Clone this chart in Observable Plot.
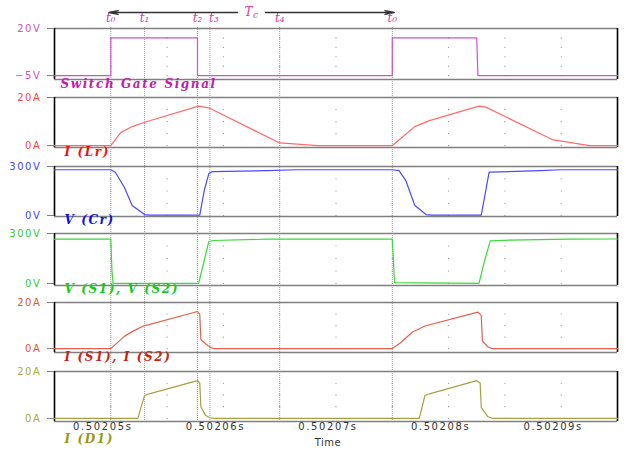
<!DOCTYPE html>
<html><head><meta charset="utf-8">
<script src="https://cdn.jsdelivr.net/npm/d3@7"></script>
<script src="https://cdn.jsdelivr.net/npm/@observablehq/plot@0.6"></script>
<style>
html,body{margin:0;padding:0;background:#fff;}
#chart{position:relative;width:626px;height:451px;overflow:hidden;background:#fff;}
#chart svg{position:absolute;left:0;overflow:visible;background:transparent;}
</style></head><body><div id="chart"></div>
<script>
// ---- axes / markers ----
const xDomain = [0.502045, 0.502095];
const xGridTicks = [0.50205, 0.502055, 0.50206, 0.502065, 0.50207, 0.502075, 0.50208, 0.502085, 0.50209];
const xTicks = [0.50205, 0.50206, 0.50207, 0.50208, 0.50209];
const xTickLabels = ["0.50205s", "0.50206s", "0.50207s", "0.50208s", "0.50209s"];
const xLabel = "Time";
const markerTimes = [0.50205, 0.502053, 0.5020577, 0.5020588, 0.502065, 0.502075];
const markerLabels = ["t\u2080", "t\u2081", "t\u2082", "t\u2083", "t\u2084", "t\u2080"];
const periodLabel = ["T", "c"];

// ---- Switch Gate Signal ----
const gateTime = [0.502045, 0.50205, 0.50205, 0.5020577, 0.5020577, 0.502075, 0.502075, 0.5020825, 0.5020826, 0.502095];
const gateVolts = [-5, -5, 15, 15, -5, -5, 15, 15, -5, -5];
const gateTicks = [20, -5];
const gateTickLabels = ["20V", "\u22125V"];
const gateGrid = [15, 10, 5, 0, -5];

// ---- I(Lr) ----
const lrTime = [0.502045, 0.50205, 0.5020509, 0.5020519, 0.502053, 0.5020578, 0.5020587, 0.502065, 0.5020684, 0.502075, 0.5020763, 0.502077, 0.5020783, 0.5020827, 0.5020833, 0.5020892, 0.5020925, 0.502095];
const lrAmps = [0, 0, 5.5, 7.9, 9.7, 16.4, 15.7, 1.1, 0, 0, 5.1, 7.9, 10.4, 16.4, 16.0, 2.5, 0, 0];
const ampTicks = [20, 0];
const ampTickLabels = ["20A", "0A"];
const ampGrid = [15, 10, 5, 0];

// ---- V(Cr) ----
const crTime = [0.502045, 0.50205, 0.5020504, 0.5020512, 0.5020519, 0.502053, 0.5020535, 0.5020579, 0.5020583, 0.5020587, 0.502059, 0.5020639, 0.5020665, 0.502075, 0.5020756, 0.5020762, 0.502077, 0.502078, 0.5020785, 0.5020829, 0.5020836, 0.5020881, 0.50209, 0.502095];
const crVolts = [280, 280, 265, 173, 61, 6, 2, 2, 153, 255, 269, 275, 280, 280, 275, 214, 61, 6, 2, 2, 265, 275, 280, 280];
const voltTicks = [300, 0];
const voltTickLabels = ["300V", "0V"];
const voltGrid = [225, 150, 75, 0];

// ---- V(S1), V(S2) ----
const s1Time = [0.502045, 0.50205, 0.5020501, 0.5020502, 0.5020578, 0.5020583, 0.5020587, 0.5020591, 0.5020639, 0.502075, 0.5020752, 0.5020827, 0.5020832, 0.5020837, 0.5020854, 0.5020907, 0.502095];
const s1Volts = [266, 266, 78, 1, 1, 138, 252, 258, 266, 266, 5, 1, 138, 256, 260, 266, 267];

// ---- I(S1), I(S2) ----
const is1Time = [0.502045, 0.50205, 0.5020512, 0.5020521, 0.502053, 0.5020534, 0.5020577, 0.5020579, 0.502058, 0.5020584, 0.5020589, 0.5020592, 0.502075, 0.5020757, 0.5020768, 0.5020779, 0.5020826, 0.5020829, 0.502083, 0.5020835, 0.5020839, 0.502095];
const is1Amps = [0, 0, 5.3, 7.9, 10.0, 10.4, 16.1, 14.8, 3.9, 2.2, 0.3, 0, 0, 2.4, 7.2, 9.8, 15.8, 14.4, 3.3, 0.7, 0, 0];

// ---- I(D1) ----
const d1Time = [0.502045, 0.5020524, 0.502053, 0.5020534, 0.5020577, 0.5020579, 0.502058, 0.5020584, 0.5020588, 0.5020592, 0.5020774, 0.5020779, 0.5020783, 0.5020825, 0.5020828, 0.5020829, 0.5020835, 0.5020839, 0.502095];
const d1Amps = [0, 0, 9.8, 10.5, 16.1, 15.1, 4.9, 1.4, 0.3, 0, 0, 9.8, 10.5, 16.1, 15.1, 4.6, 0.7, 0, 0];

const panels = [
  {title: "Switch Gate Signal", time: gateTime, values: gateVolts, yDomain: [-7.1, 20], ticks: gateTicks, tickLabels: gateTickLabels, grid: gateGrid,
   top: 28, bottom: 79, color: "#d050d0", tickColor: "#cc55bb", titleColor: "#bb22aa", titleDx: 6, titleDy: 8},
  {title: "I (Lr)", time: lrTime, values: lrAmps, yDomain: [-0.8, 20], ticks: ampTicks, tickLabels: ampTickLabels, grid: ampGrid,
   top: 97, bottom: 147, color: "#ff6b6b", tickColor: "#ff4444", titleColor: "#ee1111", titleDx: 10, titleDy: 8},
  {title: "V (Cr)", time: crTime, values: crVolts, yDomain: [-6, 300], ticks: voltTicks, tickLabels: voltTickLabels, grid: voltGrid,
   top: 166, bottom: 216, color: "#4a4aff", tickColor: "#4444ff", titleColor: "#1111dd", titleDx: 10, titleDy: 7},
  {title: "V (S1), V (S2)", time: s1Time, values: s1Volts, yDomain: [-12, 300], ticks: voltTicks, tickLabels: voltTickLabels, grid: voltGrid,
   top: 233, bottom: 285, color: "#3cd83c", tickColor: "#33cc33", titleColor: "#11cc11", titleDx: 10, titleDy: 7},
  {title: "I (S1), I (S2)", time: is1Time, values: is1Amps, yDomain: [-1.7, 20], ticks: ampTicks, tickLabels: ampTickLabels, grid: ampGrid,
   top: 302, bottom: 352, color: "#e8604c", tickColor: "#dd5533", titleColor: "#cc2211", titleDx: 10, titleDy: 8},
  {title: "I (D1)", time: d1Time, values: d1Amps, yDomain: [-1.3, 20], ticks: ampTicks, tickLabels: ampTickLabels, grid: ampGrid,
   top: 371, bottom: 421, color: "#a8a040", tickColor: "#aaaa33", titleColor: "#999911", titleDx: 10, titleDy: 21}
];

const chart = document.getElementById("chart");
const baseStyle = {fontFamily: "DejaVu Sans", fontSize: "10px", letterSpacing: "1.6px", background: "transparent", overflow: "visible"};
const markColor = "#d03ca8";

// marker dotted lines (behind)
const overlay = Plot.plot({
  width: 626, height: 451, marginLeft: 54, marginRight: 9, marginTop: 27, marginBottom: 30,
  x: {domain: xDomain, axis: null},
  style: baseStyle,
  marks: [Plot.ruleX(markerTimes, {stroke: "#999", strokeWidth: 1, strokeDasharray: "1,1"})]
});
overlay.style.top = "0px";
chart.appendChild(overlay);

panels.forEach((p, i) => {
  const last = i === panels.length - 1;
  const mt = 8, mb = last ? 30 : 20;
  const h = (p.bottom - p.top) + mt + mb;
  const data = p.time.map((t, k) => ({t, v: p.values[k]}));
  const grid = [];
  for (const gx of xGridTicks) for (const gy of p.grid) grid.push({gx, gy});
  const marks = [
    Plot.dot(grid, {x: "gx", y: "gy", r: 0.6, fill: "#888", stroke: null}),
    Plot.ruleY([p.yDomain[0], p.yDomain[1]], {stroke: "#808080", strokeWidth: 1.3}),
    Plot.ruleX(xDomain, {stroke: "#000", strokeWidth: 1.6}),
    Plot.axisY({ticks: p.ticks, tickFormat: d => p.tickLabels[p.ticks.indexOf(d)], tickSize: 7, tickPadding: 6,
      stroke: "#808080", fill: p.tickColor, label: null}),
    Plot.line(data, {x: "t", y: "v", stroke: p.color, strokeWidth: 1.2}),
    Plot.text([p.title], {frameAnchor: "bottom-left", textAnchor: "start", dx: p.titleDx, dy: p.titleDy,
      fill: p.titleColor, fontFamily: "DejaVu Serif", fontStyle: "italic", fontWeight: "bold", fontSize: 12})
  ];
  if (last) {
    marks.push(Plot.axisX({ticks: xTicks, tickFormat: d => xTickLabels[xTicks.indexOf(d)], tickSize: 0, tickPadding: 1,
      dx: -8, fill: "#333", label: null}));
    marks.push(Plot.text([xLabel], {frameAnchor: "bottom", dy: 24, dx: -8, fill: "#333", fontSize: 10}));
  }
  const svg = Plot.plot({
    width: 626, height: h, marginLeft: 54, marginRight: 9, marginTop: mt, marginBottom: mb,
    x: {domain: xDomain, axis: null},
    y: {domain: p.yDomain, axis: null},
    style: baseStyle,
    marks
  });
  svg.style.top = (p.top - mt) + "px";
  svg.querySelectorAll('g[aria-label="text"] text').forEach(t => t.style.letterSpacing = "1.6px");
  if (last) {
    const texts = svg.querySelectorAll('g[aria-label="text"] text');
    texts[texts.length - 1].style.letterSpacing = "0.5px";
  }
  chart.appendChild(svg);
});

// header: period arrow and marker labels
const periodMid = (markerTimes[0] + markerTimes[5]) / 2;
const header = Plot.plot({
  width: 626, height: 28, marginLeft: 54, marginRight: 9, marginTop: 9, marginBottom: 7,
  x: {domain: xDomain, axis: null},
  y: {type: "point", domain: ["Tc", "t"], axis: null},
  style: baseStyle,
  marks: [
    Plot.arrow([markerTimes[0], markerTimes[5]], {x1: () => periodMid, x2: d => d, y1: () => "Tc", y2: () => "Tc",
      stroke: "#333", strokeWidth: 1.3, headLength: 11, headAngle: 24, insetStart: 14, insetEnd: -2}),
    Plot.text([periodLabel[0]], {x: () => periodMid, y: () => "Tc", dx: -3, fill: markColor,
      fontFamily: "DejaVu Serif", fontStyle: "italic", fontSize: 12}),
    Plot.text([periodLabel[1]], {x: () => periodMid, y: () => "Tc", dx: 4, dy: 3, fill: markColor,
      fontFamily: "DejaVu Serif", fontStyle: "italic", fontSize: 9}),
    Plot.text(markerLabels, {x: (d, i) => markerTimes[i], y: () => "t", filter: (d, i) => i !== 3, fill: markColor,
      fontFamily: "DejaVu Serif", fontStyle: "italic", fontSize: 12}),
    Plot.text(markerLabels, {x: (d, i) => markerTimes[i], y: () => "t", filter: (d, i) => i === 3, dx: 4, fill: markColor,
      fontFamily: "DejaVu Serif", fontStyle: "italic", fontSize: 12})
  ]
});
header.style.top = "0px";
header.querySelectorAll("text").forEach(t => t.style.letterSpacing = "0px");
chart.appendChild(header);
</script></body></html>
